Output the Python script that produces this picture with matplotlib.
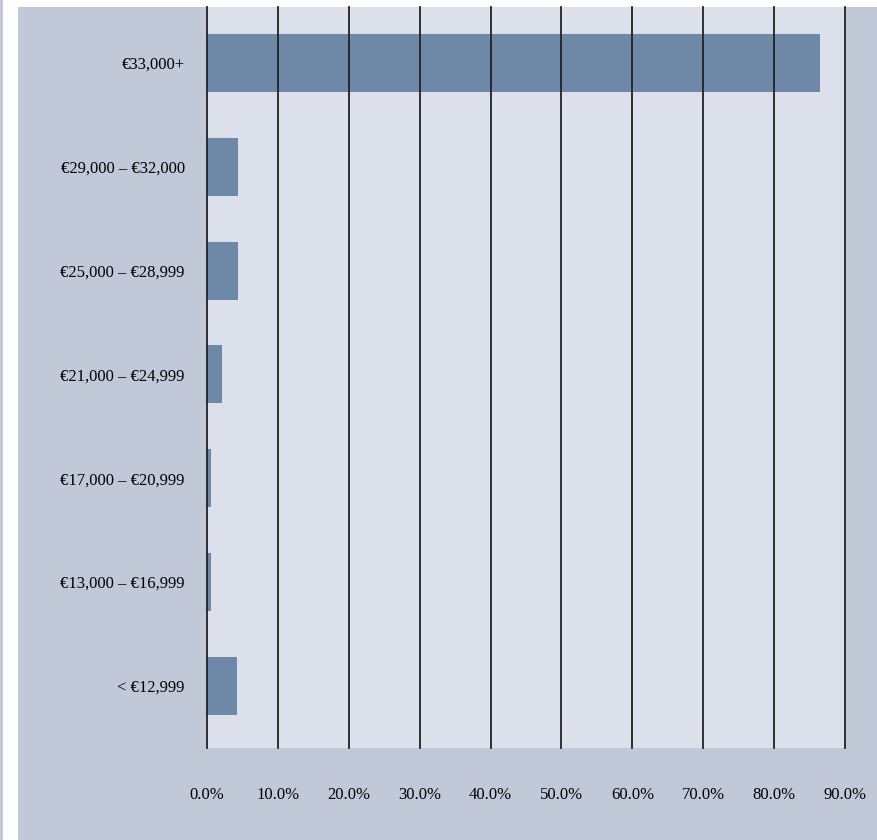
import matplotlib.pyplot as plt
from matplotlib.patches import Rectangle

# tranches de salaire, de bas en haut
categories = ["< €12,999", "€13,000 – €16,999", "€17,000 – €20,999",
              "€21,000 – €24,999", "€25,000 – €28,999", "€29,000 – €32,000",
              "€33,000+"]
values = [4.2, 0.6, 0.6, 2.1, 4.4, 4.4, 86.5]
ticks = [0, 10, 20, 30, 40, 50, 60, 70, 80, 90]
tick_labels = ["%.1f%%" % t for t in ticks]

panel = "#c1c8d8"
plot_bg = "#dce0ea"
bar_col = "#6e88a8"

fig = plt.figure(figsize=(8.77, 8.40), dpi=100, facecolor="white")
# fond du panneau + petite bande a gauche
fig.patches.append(Rectangle((18 / 877, 0), 1, 1 - 7 / 840, transform=fig.transFigure,
                             facecolor=panel, edgecolor="none", zorder=-10))
fig.patches.append(Rectangle((0, 0), 3 / 877, 1, transform=fig.transFigure,
                             facecolor=panel, edgecolor="none", zorder=-10))

ax = fig.add_axes([207 / 877, 1 - 748 / 840, (845 - 207) / 877, (748 - 7) / 840])
ax.set_zorder(5)
ax.set_facecolor(plot_bg)
ax.barh(range(len(categories)), values, height=0.56, color=bar_col, zorder=2)
for t in ticks:
    ax.axvline(t, color="#222222", lw=1.3, zorder=3, clip_on=False)

ax.set_xlim(0, 90)
ax.set_ylim(-0.6, 6.54)
ax.set_yticks(range(len(categories)))
ax.set_yticklabels(categories, family="Liberation Serif", fontsize=12)
ax.set_xticks(ticks)
ax.set_xticklabels(tick_labels, family="Liberation Serif", fontsize=12)
ax.tick_params(length=0)
ax.tick_params(axis="x", pad=28)
ax.tick_params(axis="y", pad=16)
for s in ax.spines.values():
    s.set_visible(False)

fig.savefig("out.png", dpi=100, facecolor="white")
